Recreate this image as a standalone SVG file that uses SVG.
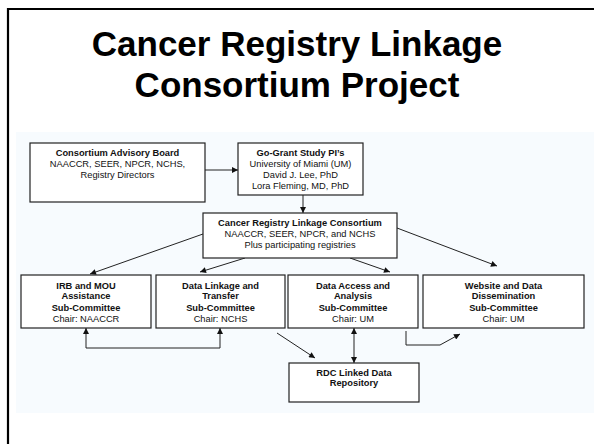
<svg xmlns="http://www.w3.org/2000/svg" width="594" height="444" viewBox="0 0 594 444">
<defs>
<style>
.box{fill:#fff;stroke:#222;stroke-width:1.2}
.t{font-family:"Liberation Sans",Arial,sans-serif;font-size:9.3px;fill:#111;text-anchor:middle}
.b{font-weight:bold}
.title{font-family:"Liberation Sans",Arial,sans-serif;font-weight:bold;font-size:35px;fill:#000;text-anchor:middle}
.c{fill:none;stroke:#222;stroke-width:1}
</style>
<marker id="ah" viewBox="0 0 10 10" refX="10" refY="5" markerWidth="7" markerHeight="6" markerUnits="userSpaceOnUse" orient="auto-start-reverse">
<path d="M0,0 L10,5 L0,10 z" fill="#111"/>
</marker>
</defs>
<rect x="0" y="0" width="594" height="444" fill="#fff"/>
<rect x="16" y="132" width="578" height="281" fill="#f7fbfe"/>
<path d="M8,444 V9 H594" fill="none" stroke="#000" stroke-width="2.2"/>
<text class="title" x="297" y="56">Cancer Registry Linkage</text>
<text class="title" x="297" y="97">Consortium Project</text>

<g id="connectors">
<line class="c" x1="205" y1="170" x2="238" y2="170" marker-end="url(#ah)"/>
<line class="c" x1="303" y1="195" x2="303" y2="213" marker-end="url(#ah)"/>
<line class="c" x1="203" y1="234" x2="90" y2="274" marker-end="url(#ah)"/>
<line class="c" x1="245" y1="258" x2="200" y2="272" marker-end="url(#ah)"/>
<line class="c" x1="350" y1="258" x2="390" y2="272" marker-end="url(#ah)"/>
<line class="c" x1="397" y1="228" x2="497" y2="266" marker-end="url(#ah)"/>
<path class="c" d="M86,328 V348 H220 V328" marker-start="url(#ah)" marker-end="url(#ah)"/>
<line class="c" x1="277" y1="333" x2="315" y2="358" marker-end="url(#ah)"/>
<line class="c" x1="354" y1="328" x2="354" y2="363" marker-start="url(#ah)" marker-end="url(#ah)"/>
<path class="c" d="M406,331 V345 H440 L460,334" marker-end="url(#ah)"/>
</g>

<g id="advisory">
<rect class="box" x="30" y="143" width="175" height="59"/>
<text class="t b" x="117.5" y="156">Consortium Advisory Board</text>
<text class="t" x="117.5" y="166.5">NAACCR, SEER, NPCR, NCHS,</text>
<text class="t" x="117.5" y="177.5">Registry Directors</text>
</g>

<g id="gogrant">
<rect class="box" x="238" y="143" width="125" height="52"/>
<text class="t b" x="300.5" y="156">Go-Grant Study PI’s</text>
<text class="t" x="300.5" y="166.5">University of Miami (UM)</text>
<text class="t" x="300.5" y="177.5">David J. Lee, PhD</text>
<text class="t" x="300.5" y="188.5">Lora Fleming, MD, PhD</text>
</g>

<g id="crlc">
<rect class="box" x="203" y="213" width="194" height="45"/>
<text class="t b" x="300" y="226">Cancer Registry Linkage Consortium</text>
<text class="t" x="300" y="236.5">NAACCR, SEER, NPCR, and NCHS</text>
<text class="t" x="300" y="247.5">Plus participating registries</text>
</g>

<g id="irb">
<rect class="box" x="21" y="275" width="130" height="53"/>
<text class="t b" x="86" y="288.5">IRB and MOU</text>
<text class="t b" x="86" y="299">Assistance</text>
<text class="t b" x="86" y="310.5">Sub-Committee</text>
<text class="t" x="86" y="321.5">Chair: NAACCR</text>
</g>

<g id="linkage">
<rect class="box" x="156" y="275" width="129" height="53"/>
<text class="t b" x="220.5" y="288.5">Data Linkage and</text>
<text class="t b" x="220.5" y="299">Transfer</text>
<text class="t b" x="220.5" y="310.5">Sub-Committee</text>
<text class="t" x="220.5" y="321.5">Chair: NCHS</text>
</g>

<g id="access">
<rect class="box" x="288" y="275" width="130" height="53"/>
<text class="t b" x="353" y="288.5">Data Access and</text>
<text class="t b" x="353" y="299">Analysis</text>
<text class="t b" x="353" y="310.5">Sub-Committee</text>
<text class="t" x="353" y="321.5">Chair: UM</text>
</g>

<g id="website">
<rect class="box" x="423" y="275" width="161" height="53"/>
<text class="t b" x="503.5" y="288.5">Website and Data</text>
<text class="t b" x="503.5" y="299">Dissemination</text>
<text class="t b" x="503.5" y="310.5">Sub-Committee</text>
<text class="t" x="503.5" y="321.5">Chair: UM</text>
</g>

<g id="rdc">
<rect class="box" x="289" y="363" width="130" height="39"/>
<text class="t b" x="354" y="376">RDC Linked Data</text>
<text class="t b" x="354" y="386">Repository</text>
</g>
</svg>
